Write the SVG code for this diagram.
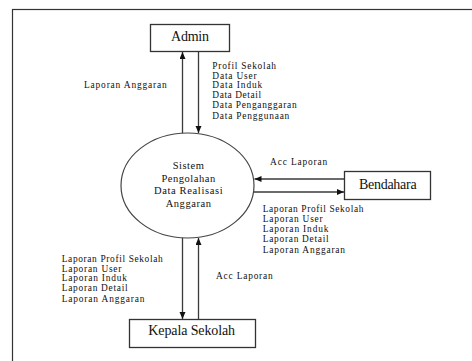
<svg xmlns="http://www.w3.org/2000/svg" width="472" height="361" viewBox="0 0 472 361" font-family="'Liberation Serif', 'Times New Roman', Times, serif">
  <style>
    .frame { fill: none; stroke: #333; stroke-width: 1.2; }
    .box { fill: #fff; stroke: #333; stroke-width: 1.3; }
    .proc { fill: #fff; stroke: #444; stroke-width: 1.2; }
    .flow { fill: none; stroke: #3a3a3a; stroke-width: 1.3; marker-end: url(#arrow); }
    text { fill: #111; }
    .name { font-size: 14px; text-anchor: middle; }
    .ptxt { font-size: 10.5px; text-anchor: middle; }
    .lbl { font-size: 9.4px; }
  </style>
  <defs>
    <marker id="arrow" markerUnits="userSpaceOnUse" markerWidth="8" markerHeight="7" refX="7" refY="3" orient="auto">
      <path d="M0,0 L7,3 L0,6 z" fill="#111"/>
    </marker>
  </defs>

  <!-- page border, running off the right and bottom edges -->
  <rect id="frame" class="frame" x="12.5" y="9.5" width="480" height="370"/>

  <g id="connectors">
    <line class="flow" x1="182.5" y1="134" x2="182.5" y2="52"/>
    <line class="flow" x1="198.5" y1="52" x2="198.5" y2="133"/>
    <line class="flow" x1="344" y1="179" x2="254.5" y2="179"/>
    <line class="flow" x1="253" y1="192" x2="344" y2="192"/>
    <line class="flow" x1="182.5" y1="237" x2="182.5" y2="319"/>
    <line class="flow" x1="198.5" y1="319" x2="198.5" y2="238"/>
  </g>

  <g id="admin">
    <rect class="box" x="150.5" y="24.5" width="79" height="27"/>
    <text class="name" x="190" y="40.5" textLength="38" lengthAdjust="spacing">Admin</text>
  </g>

  <g id="proses">
    <ellipse class="proc" cx="187.5" cy="185.5" rx="66.5" ry="52.5"/>
    <text class="ptxt" x="188.3" y="168.7" textLength="31" lengthAdjust="spacing">Sistem</text>
    <text class="ptxt" x="188.3" y="181.5" textLength="53.7" lengthAdjust="spacing">Pengolahan</text>
    <text class="ptxt" x="188.3" y="194.3" textLength="68.7" lengthAdjust="spacing">Data Realisasi</text>
    <text class="ptxt" x="188.3" y="206.7" textLength="45.3" lengthAdjust="spacing">Anggaran</text>
  </g>

  <g id="bendahara">
    <rect class="box" x="344.5" y="171.5" width="86" height="28"/>
    <text class="name" x="387.8" y="188.5" textLength="57.7" lengthAdjust="spacing">Bendahara</text>
  </g>

  <g id="kepala-sekolah">
    <rect class="box" x="129.5" y="319.5" width="126" height="28"/>
    <text class="name" x="191.7" y="334.8" textLength="86.7" lengthAdjust="spacing">Kepala Sekolah</text>
  </g>

  <g id="labels">
    <text class="lbl" x="84" y="87.5" textLength="82.7" lengthAdjust="spacing">Laporan Anggaran</text>

    <text class="lbl" x="212.3" y="69" textLength="63.7" lengthAdjust="spacing">Profil Sekolah</text>
    <text class="lbl" x="212.3" y="78.5" textLength="44.3" lengthAdjust="spacing">Data User</text>
    <text class="lbl" x="212.3" y="88.2" textLength="50" lengthAdjust="spacing">Data Induk</text>
    <text class="lbl" x="212.3" y="97.8" textLength="48.7" lengthAdjust="spacing">Data Detail</text>
    <text class="lbl" x="212.3" y="108.3" textLength="84.3" lengthAdjust="spacing">Data Penganggaran</text>
    <text class="lbl" x="212.3" y="119" textLength="77" lengthAdjust="spacing">Data Penggunaan</text>

    <text class="lbl" x="270" y="164.5" textLength="57.3" lengthAdjust="spacing">Acc Laporan</text>

    <text class="lbl" x="262.7" y="212" textLength="100.7" lengthAdjust="spacing">Laporan Profil Sekolah</text>
    <text class="lbl" x="262.7" y="222" textLength="60" lengthAdjust="spacing">Laporan User</text>
    <text class="lbl" x="262.7" y="232" textLength="65.7" lengthAdjust="spacing">Laporan Induk</text>
    <text class="lbl" x="262.7" y="242" textLength="66" lengthAdjust="spacing">Laporan Detail</text>
    <text class="lbl" x="262.7" y="252.5" textLength="82.3" lengthAdjust="spacing">Laporan Anggaran</text>

    <text class="lbl" x="61.7" y="262" textLength="101" lengthAdjust="spacing">Laporan Profil Sekolah</text>
    <text class="lbl" x="61.7" y="271.8" textLength="59.7" lengthAdjust="spacing">Laporan User</text>
    <text class="lbl" x="61.7" y="281.3" textLength="65.3" lengthAdjust="spacing">Laporan Induk</text>
    <text class="lbl" x="61.7" y="290.7" textLength="66" lengthAdjust="spacing">Laporan Detail</text>
    <text class="lbl" x="61.7" y="301.7" textLength="82.7" lengthAdjust="spacing">Laporan Anggaran</text>

    <text class="lbl" x="216" y="279" textLength="56.7" lengthAdjust="spacing">Acc Laporan</text>
  </g>
</svg>
